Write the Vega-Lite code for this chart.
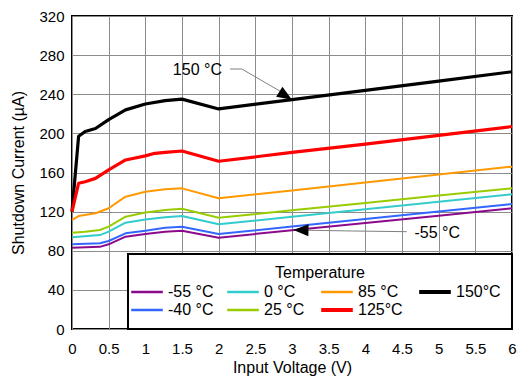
{
  "$schema": "https://vega.github.io/schema/vega-lite/v6.json",
  "autosize": "none",
  "width": 440,
  "height": 313,
  "padding": {"left": 72, "top": 16, "right": 6, "bottom": 50},
  "background": "white",
  "datasets": {
    "curves": [
      {"T": "150°C", "v": 0, "i": 120}, {"T": "150°C", "v": 0.09, "i": 197}, {"T": "150°C", "v": 0.18, "i": 202}, {"T": "150°C", "v": 0.32, "i": 205}, {"T": "150°C", "v": 0.5, "i": 214}, {"T": "150°C", "v": 0.73, "i": 224}, {"T": "150°C", "v": 1.0, "i": 230}, {"T": "150°C", "v": 1.27, "i": 233.5}, {"T": "150°C", "v": 1.5, "i": 235}, {"T": "150°C", "v": 2, "i": 225}, {"T": "150°C", "v": 3, "i": 234.5}, {"T": "150°C", "v": 4, "i": 244}, {"T": "150°C", "v": 5, "i": 253.5}, {"T": "150°C", "v": 6, "i": 263},
      {"T": "125°C", "v": 0, "i": 120}, {"T": "125°C", "v": 0.09, "i": 149}, {"T": "125°C", "v": 0.18, "i": 150.6}, {"T": "125°C", "v": 0.32, "i": 154}, {"T": "125°C", "v": 0.5, "i": 162.6}, {"T": "125°C", "v": 0.73, "i": 172.8}, {"T": "125°C", "v": 1.0, "i": 177}, {"T": "125°C", "v": 1.13, "i": 179.6}, {"T": "125°C", "v": 1.27, "i": 180.6}, {"T": "125°C", "v": 1.5, "i": 182}, {"T": "125°C", "v": 2, "i": 171.5}, {"T": "125°C", "v": 3, "i": 180.5}, {"T": "125°C", "v": 4, "i": 189}, {"T": "125°C", "v": 5, "i": 198}, {"T": "125°C", "v": 6, "i": 207},
      {"T": "85 °C", "v": 0, "i": 111.5}, {"T": "85 °C", "v": 0.09, "i": 115.5}, {"T": "85 °C", "v": 0.32, "i": 118.3}, {"T": "85 °C", "v": 0.5, "i": 123.4}, {"T": "85 °C", "v": 0.73, "i": 135.3}, {"T": "85 °C", "v": 1.0, "i": 140.4}, {"T": "85 °C", "v": 1.27, "i": 142.8}, {"T": "85 °C", "v": 1.5, "i": 143.8}, {"T": "85 °C", "v": 2, "i": 133.6}, {"T": "85 °C", "v": 3, "i": 141.7}, {"T": "85 °C", "v": 4, "i": 149.8}, {"T": "85 °C", "v": 5, "i": 157.9}, {"T": "85 °C", "v": 6, "i": 166},
      {"T": "25 °C", "v": 0, "i": 98.5}, {"T": "25 °C", "v": 0.18, "i": 99.5}, {"T": "25 °C", "v": 0.38, "i": 101.2}, {"T": "25 °C", "v": 0.5, "i": 104.6}, {"T": "25 °C", "v": 0.73, "i": 114.8}, {"T": "25 °C", "v": 1.0, "i": 119}, {"T": "25 °C", "v": 1.27, "i": 121.7}, {"T": "25 °C", "v": 1.5, "i": 123}, {"T": "25 °C", "v": 2, "i": 113.8}, {"T": "25 °C", "v": 3, "i": 121.3}, {"T": "25 °C", "v": 4, "i": 128.9}, {"T": "25 °C", "v": 5, "i": 136.4}, {"T": "25 °C", "v": 6, "i": 143.9},
      {"T": "0 °C", "v": 0, "i": 93.8}, {"T": "0 °C", "v": 0.38, "i": 96}, {"T": "0 °C", "v": 0.5, "i": 99.5}, {"T": "0 °C", "v": 0.73, "i": 108.7}, {"T": "0 °C", "v": 1.0, "i": 112}, {"T": "0 °C", "v": 1.27, "i": 114.2}, {"T": "0 °C", "v": 1.5, "i": 115.5}, {"T": "0 °C", "v": 2, "i": 107}, {"T": "0 °C", "v": 3, "i": 114.7}, {"T": "0 °C", "v": 4, "i": 122.4}, {"T": "0 °C", "v": 5, "i": 130}, {"T": "0 °C", "v": 6, "i": 137.7},
      {"T": "-40 °C", "v": 0, "i": 86.6}, {"T": "-40 °C", "v": 0.38, "i": 87.6}, {"T": "-40 °C", "v": 0.5, "i": 90}, {"T": "-40 °C", "v": 0.73, "i": 97.8}, {"T": "-40 °C", "v": 1.0, "i": 100.5}, {"T": "-40 °C", "v": 1.27, "i": 103.6}, {"T": "-40 °C", "v": 1.5, "i": 104.6}, {"T": "-40 °C", "v": 2, "i": 97.1}, {"T": "-40 °C", "v": 3, "i": 104.8}, {"T": "-40 °C", "v": 4, "i": 112.5}, {"T": "-40 °C", "v": 5, "i": 120.1}, {"T": "-40 °C", "v": 6, "i": 127.8},
      {"T": "-55 °C", "v": 0, "i": 83.1}, {"T": "-55 °C", "v": 0.38, "i": 84}, {"T": "-55 °C", "v": 0.5, "i": 86.6}, {"T": "-55 °C", "v": 0.73, "i": 94.4}, {"T": "-55 °C", "v": 1.0, "i": 97.1}, {"T": "-55 °C", "v": 1.27, "i": 99.5}, {"T": "-55 °C", "v": 1.5, "i": 100.5}, {"T": "-55 °C", "v": 2, "i": 93.4}, {"T": "-55 °C", "v": 3, "i": 100.9}, {"T": "-55 °C", "v": 4, "i": 108.4}, {"T": "-55 °C", "v": 5, "i": 115.9}, {"T": "-55 °C", "v": 6, "i": 123.4}
    ],
    "leaders": [
      {"g": "a", "o": 1, "v": 2.156, "i": 265.8}, {"g": "a", "o": 2, "v": 2.316, "i": 265.8}, {"g": "a", "o": 3, "v": 2.9, "i": 240.4},
      {"g": "b", "o": 1, "v": 4.564, "i": 99.5}, {"g": "b", "o": 2, "v": 3.815, "i": 100.2}, {"g": "b", "o": 3, "v": 3.1, "i": 101.1}
    ],
    "labels": [
      {"txt": "150 °C", "v": 1.71, "i": 264.8},
      {"txt": "-55 °C", "v": 4.98, "i": 97.8}
    ]
  },
  "encoding": {
    "x": {"field": "v", "type": "quantitative", "scale": {"domain": [0, 6], "nice": false},
          "axis": {"title": "Input Voltage (V)", "values": [0, 0.5, 1, 1.5, 2, 2.5, 3, 3.5, 4, 4.5, 5, 5.5, 6], "format": "~g", "labelPadding": 12, "titlePadding": 3}},
    "y": {"field": "i", "type": "quantitative", "scale": {"domain": [0, 320], "nice": false},
          "axis": {"title": "Shutdown Current (µA)", "values": [0, 40, 80, 120, 160, 200, 240, 280, 320], "format": "d", "labelPadding": 8, "titlePadding": 12}}
  },
  "layer": [
    {
      "data": {"name": "curves"},
      "mark": {"type": "line", "strokeJoin": "round"},
      "encoding": {
        "color": {"field": "T", "type": "nominal",
          "scale": {"domain": ["-55 °C", "-40 °C", "0 °C", "25 °C", "85 °C", "125°C", "150°C"],
                    "range": ["#8B0A8B", "#3366FF", "#33CCCC", "#99CC00", "#FF9900", "#FF0000", "#000000"]},
          "legend": {"title": "Temperature", "orient": "bottom-right", "offset": 0, "columns": 4,
            "titleAnchor": "middle", "symbolType": "stroke", "symbolSize": 1000, "symbolStrokeWidth": 2.5,
            "fillColor": "white", "strokeColor": "black", "padding": 11, "columnPadding": 8, "rowPadding": 2,
            "labelOffset": 13, "titlePadding": 3,
            "encode": {"symbols": {"update": {"strokeWidth": {"signal": "indexof(['125°C','150°C'], datum.value) >= 0 ? 4 : 2.5"}}}}}},
        "detail": {"field": "T"},
        "strokeWidth": {"condition": {"test": "datum.T == '125°C' || datum.T == '150°C'", "value": 3.2}, "value": 2}
      }
    },
    {
      "data": {"name": "leaders"},
      "mark": {"type": "line", "color": "#808080", "strokeWidth": 1},
      "encoding": {
        "detail": {"field": "g"},
        "order": {"field": "o"}
      }
    },
    {
      "data": {"values": [{"v": 3.0, "i": 234.4}]},
      "mark": {"type": "point", "shape": "M0,0L-1,-0.4L-1,0.4Z", "filled": true, "color": "black", "opacity": 1, "size": 900, "angle": 32, "strokeWidth": 0},
      "encoding": {}
    },
    {
      "data": {"values": [{"v": 3.02, "i": 101.2}]},
      "mark": {"type": "point", "shape": "M0,0L-1,-0.4L-1,0.4Z", "filled": true, "color": "black", "opacity": 1, "size": 900, "angle": 181, "strokeWidth": 0},
      "encoding": {}
    },
    {
      "data": {"name": "labels"},
      "mark": {"type": "text", "fontSize": 16, "font": "Liberation Sans", "color": "black", "align": "center", "baseline": "middle"},
      "encoding": {
        "text": {"field": "txt"}
      }
    }
  ],
  "config": {
    "font": "Liberation Sans",
    "view": {"stroke": "black", "strokeWidth": 2},
    "axis": {
      "domain": false, "ticks": false, "grid": true, "gridColor": "#8c8c8c", "gridWidth": 1, "gridOpacity": 1,
      "labelFont": "Liberation Sans", "labelFontSize": 15, "labelColor": "black",
      "titleFont": "Liberation Sans", "titleFontSize": 16, "titleFontWeight": "normal", "titleColor": "black",
      "labelFlush": false, "labelOverlap": false
    },
    "legend": {
      "strokeWidth": 2,
      "labelFont": "Liberation Sans", "labelFontSize": 16, "labelColor": "black",
      "titleFont": "Liberation Sans", "titleFontSize": 16, "titleFontWeight": "normal", "titleColor": "black"
    }
  }
}
